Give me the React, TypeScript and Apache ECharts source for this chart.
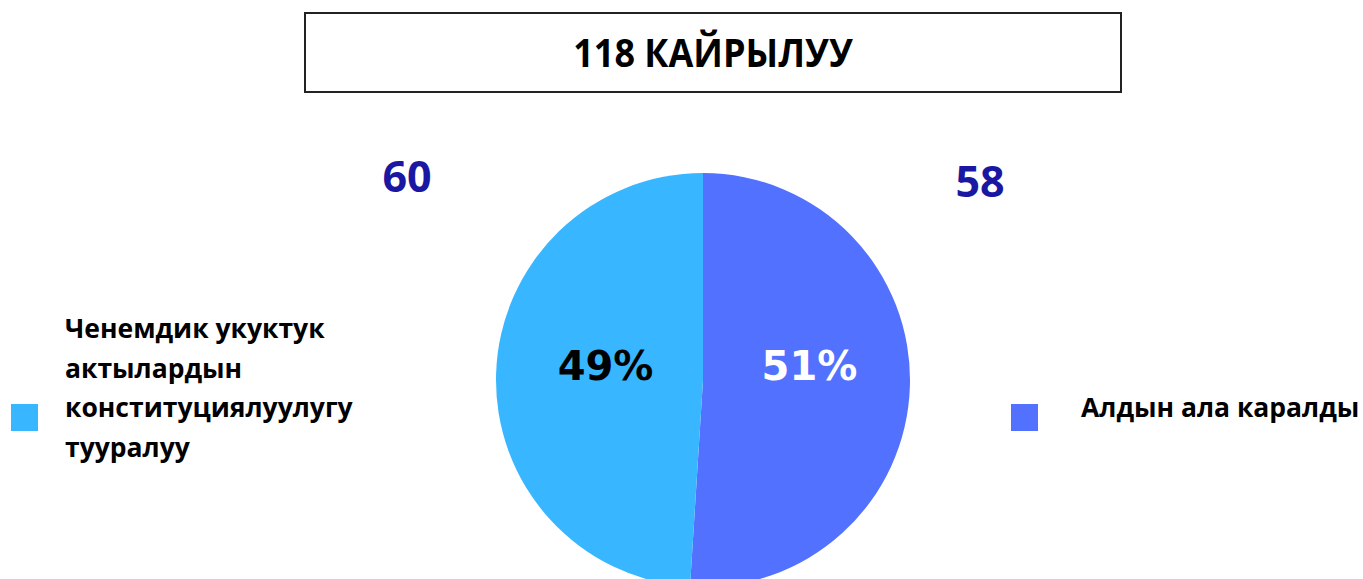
import React, { useEffect, useRef } from "react";
import * as echarts from "echarts";

const titleText = "118 КАЙРЫЛУУ";
const categories = ["Алдын ала каралды", "Ченемдик укуктук актылардын конституциялуулугу тууралуу"];
const categoryLines = [["Алдын ала каралды"], ["Ченемдик укуктук", "актылардын", "конституциялуулугу", "тууралуу"]];
const shares = [51, 49];
const counts = ["58", "60"];
const colors = ["#5271ff", "#38b6ff"];
const labelColors = ["#ffffff", "#000000"];

export default function App() {
  const ref = useRef<HTMLDivElement>(null);
  useEffect(() => {
    if (!ref.current) return;
    const chart = echarts.init(ref.current, undefined, { renderer: "svg" });
    const legendFont = { fontFamily: "'Open Sans', sans-serif", fontWeight: "bold", fontSize: 26.5, fill: "#000" };
    const legendPos = [
      { sx: 1011, sy: 404, tx: 1081, ty: 407 },
      { sx: 11, sy: 404, tx: 65, ty: 328 },
    ];
    const countPos = [
      { x: 980, y: 180 },
      { x: 407, y: 175 },
    ];
    const labelOffsets = [
      [0, -17],
      [9, -11],
    ];
    const graphics: any[] = [
      {
        type: "rect",
        shape: { x: 305, y: 13, width: 816, height: 79 },
        style: { fill: "#fff", stroke: "#222", lineWidth: 2 },
      },
      {
        type: "text",
        x: 713,
        y: 51,
        scaleX: 0.9,
        originX: 0,
        style: {
          text: titleText,
          fontFamily: "'Open Sans', sans-serif",
          fontWeight: "bold",
          fontSize: 40,
          fill: "#000",
          align: "center",
          verticalAlign: "middle",
        },
      },
    ];
    categories.forEach((c, i) => {
      const p = legendPos[i];
      graphics.push({
        type: "rect",
        shape: { x: p.sx, y: p.sy, width: 27, height: 27 },
        style: { fill: colors[i] },
      });
      categoryLines[i].forEach((line, j) => {
        graphics.push({
          type: "text",
          x: p.tx,
          y: p.ty + j * 39.5,
          style: { ...legendFont, text: line, align: "left", verticalAlign: "middle" },
        });
      });
      graphics.push({
        type: "text",
        x: countPos[i].x,
        y: countPos[i].y,
        style: {
          text: counts[i],
          fontFamily: "'Open Sans', sans-serif",
          fontWeight: "bold",
          fontSize: 43,
          fill: "#1a18a2",
          align: "center",
          verticalAlign: "middle",
        },
      });
    });
    chart.setOption({
      animation: false,
      backgroundColor: "#ffffff",
      graphic: graphics,
      series: [
        {
          type: "pie",
          center: [703, 380],
          radius: [0, 207],
          startAngle: 90,
          clockwise: true,
          silent: true,
          labelLine: { show: false },
          label: {
            show: true,
            position: "inside",
            formatter: "{c}%",
            fontFamily: "'DejaVu Sans', Verdana, sans-serif",
            fontWeight: "bold",
            fontSize: 40,
          },
          data: categories.map((name, i) => ({
            name,
            value: shares[i],
            itemStyle: { color: colors[i] },
            label: { color: labelColors[i], offset: labelOffsets[i] },
          })),
        },
      ],
    });
    return () => chart.dispose();
  }, []);
  return (
    <div
      ref={ref}
      style={{ position: "fixed", left: 0, top: 0, width: 1363, height: 579, background: "#fff" }}
    />
  );
}
